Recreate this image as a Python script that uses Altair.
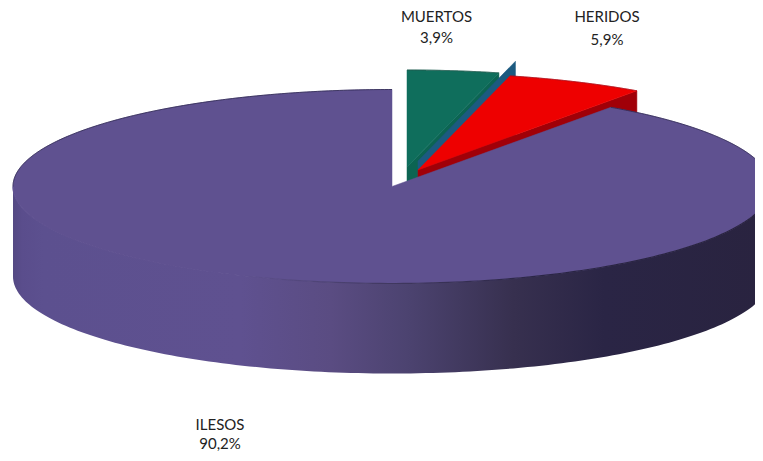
import numpy as np
import pandas as pd
import altair as alt

categories = ["MUERTOS", "HERIDOS", "ILESOS"]
shares = [3.9, 5.9, 90.2]
labels = ["3,9%", "5,9%", "90,2%"]
top_colors = ["#0f6e5c", "#ee0000", "#5f5190"]
wall_colors = ["#0c6452", "#a00008"]
sliver_color = "#1c5a80"
label_x = [436.5, 607, 220]
label_y1 = [17, 17, 425]
label_y2 = [38, 40, 444]

# pie geometry, in page pixels
CX, CY, A, B, DEPTH = 392, 186.5, 379, 97, 90
green_apex = (407, 167)
red_apex = (418, 170)
sliver_apex = (418, 161)


def rim(t0, t1, apex=(CX, CY), r=1.0, drop=0, n=160):
    t = np.radians(np.linspace(t0, t1, n))
    return apex[0] + r * A * np.sin(t), apex[1] - r * B * np.cos(t) + drop


def frame(xs, ys):
    return pd.DataFrame({"x": xs, "y": ys, "i": np.arange(len(xs))})


def wedge(t0, t1, apex):
    xr, yr = rim(t0, t1, apex)
    return frame(np.r_[apex[0], xr, apex[0]], np.r_[apex[1], yr, apex[1]])


def cut_wall(t, apex, r=1.0):
    xr, yr = rim(t, t, apex, r, n=1)
    return frame(
        [apex[0], xr[0], xr[0], apex[0], apex[0]],
        [apex[1], yr[0], yr[0] + DEPTH, apex[1] + DEPTH, apex[1]],
    )


a1 = shares[0] * 3.6
a2 = a1 + shares[1] * 3.6

xs = alt.X("x:Q", scale=alt.Scale(domain=[8, 755], zero=False, nice=False), axis=None)
ys = alt.Y("y:Q", scale=alt.Scale(domain=[8, 453], zero=False, nice=False, reverse=True), axis=None)


def poly(df, color):
    return (
        alt.Chart(df)
        .mark_line(fill=color, stroke=color, strokeWidth=0.5, clip=True)
        .encode(x=xs, y=ys, order="i:Q")
    )


def grad(stops):
    return alt.Gradient(
        gradient="linear", x1=0, x2=1, y1=0, y2=0,
        stops=[alt.GradientStop(offset=o, color=c) for o, c in stops],
    )


wall_stops = [
    (0.0, "#544983"), (0.012, "#5a4d8c"), (0.04, "#5c508f"), (0.3, "#5f5190"),
    (0.42, "#5a4c82"), (0.52, "#4c4370"), (0.66, "#37304f"),
    (0.78, "#2a2545"), (1.0, "#29233f"),
]
edge_stops = [
    (0.0, "#5f5190"), (0.3, "#5f5190"), (0.5, "#40385f"), (0.7, "#2a2545"), (1.0, "#29233f"),
]

xf, yf = rim(90, 270)
wall_df = frame(np.r_[xf, xf[::-1], xf[0]], np.r_[yf + DEPTH, yf[::-1], yf[0] + DEPTH])
wall = (
    alt.Chart(wall_df)
    .mark_line(fill=grad(wall_stops), stroke="transparent", clip=True)
    .encode(x=xs, y=ys, order="i:Q")
)

xb = wedge(a2, 360, (CX, CY))
front_x, front_y = rim(90, 270)
front_rim = (
    alt.Chart(frame(front_x, front_y))
    .mark_line(stroke=grad(edge_stops), strokeWidth=1.2, clip=True)
    .encode(x=xs, y=ys, order="i:Q")
)
b1x, b1y = rim(a2, 90)
b2x, b2y = rim(270, 360)
back_rims = [
    alt.Chart(frame(px, py))
    .mark_line(stroke="#2d2750", strokeWidth=0.8, clip=True)
    .encode(x=xs, y=ys, order="i:Q")
    for px, py in [(b1x, b1y), (b2x, b2y)]
]

green_top_x, green_top_y = rim(0, a1, green_apex)
green_rim = (
    alt.Chart(frame(green_top_x, green_top_y))
    .mark_line(stroke="#2f5a50", strokeWidth=0.8, clip=True)
    .encode(x=xs, y=ys, order="i:Q")
)
red_top_x, red_top_y = rim(a1, a2, red_apex)
red_rim = (
    alt.Chart(frame(red_top_x, red_top_y))
    .mark_line(stroke="#a01020", strokeWidth=0.8, clip=True)
    .encode(x=xs, y=ys, order="i:Q")
)

text_df = pd.DataFrame(
    {
        "x": label_x * 2,
        "y": label_y1 + label_y2,
        "t": categories + labels,
    }
)
text = (
    alt.Chart(text_df)
    .mark_text(font="Lato", fontSize=15, color="#222222", align="center", baseline="middle")
    .encode(x=xs, y=ys, text="t:N")
)

chart = (
    alt.layer(
        poly(cut_wall(a1, green_apex), wall_colors[0]),
        poly(wedge(0, a1, green_apex), top_colors[0]),
        green_rim,
        poly(cut_wall(a1, sliver_apex, 1.06), sliver_color),
        poly(cut_wall(a2, red_apex), wall_colors[1]),
        poly(wedge(a1, a2, red_apex), top_colors[1]),
        red_rim,
        wall,
        poly(xb, top_colors[2]),
        front_rim,
        *back_rims,
        text,
    )
    .properties(width=747, height=445, padding=0, autosize=alt.AutoSizeParams(type="none"), background="white")
    .configure_view(stroke=None)
)

chart.save("out.html", embed_options={"renderer": "svg", "actions": False})
